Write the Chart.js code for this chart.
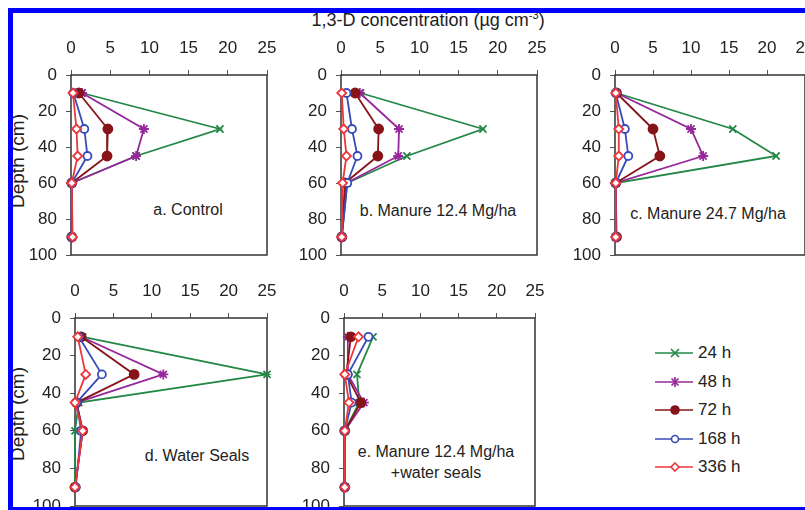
<!DOCTYPE html>
<html>
<head>
<meta charset="utf-8">
<script src="https://cdn.jsdelivr.net/npm/chart.js@4.4.0/dist/chart.umd.min.js"></script>
<style>
  body { margin: 0; width: 805px; height: 510px; overflow: hidden; background: #fff;
         font-family: "Liberation Sans", Arial, sans-serif; color: #222; position: relative; }
  .frame { position: absolute; left: 8px; top: 8px; width: 900px; height: 502px; box-sizing: border-box;
           border-top: 5px solid #0000ff; border-left: 5px solid #0000ff; border-bottom: 3px solid #0000ff;
           z-index: 5; pointer-events: none; }
  canvas { position: absolute; }
  .txt { position: absolute; white-space: nowrap; transform: translate(-50%, -50%); font-size: 16px; text-align: center; }
  .ytitle { position: absolute; white-space: nowrap; font-size: 19px; transform: translate(-50%, -50%) rotate(-90deg); }
  .legend { position: absolute; left: 655px; top: 339px; font-size: 17px; }
  .legend div { height: 28.5px; display: flex; align-items: center; }
  .legend svg { margin-right: 5px; }
</style>
</head>
<body>
<div class="frame"></div>
<div class="txt" style="left:428px; top:20px; font-size:18px;">1,3-D concentration (µg cm<sup style="font-size:11px;">-3</sup>)</div>
<div class="ytitle" style="left:18px; top:161px;">Depth (cm)</div>
<div class="ytitle" style="left:18px; top:414px;">Depth (cm)</div>
<div class="txt" style="left:188px; top:210px;">a. Control</div>
<div class="txt" style="left:438px; top:211px;">b. Manure 12.4 Mg/ha</div>
<div class="txt" style="left:708px; top:214px;">c. Manure 24.7 Mg/ha</div>
<div class="txt" style="left:197px; top:456px;">d. Water Seals</div>
<div class="txt" style="left:436px; top:462px; line-height:21px;">e. Manure 12.4 Mg/ha<br>+water seals</div>
<div class="legend" id="legend"></div>

<canvas id="pa"></canvas>
<canvas id="pb"></canvas>
<canvas id="pc"></canvas>
<canvas id="pd"></canvas>
<canvas id="pe"></canvas>

<script>
// depths (cm) at which samples were taken
const depths = [10, 30, 45, 60, 90];
const seriesNames = ["24 h", "48 h", "72 h", "168 h", "336 h"];
const xTicks = [0, 5, 10, 15, 20, 25];
const yTicks = [0, 20, 40, 60, 80, 100];

// concentration values per panel, one array per time (24, 48, 72, 168, 336 h)
const control = [
  [1.4, 19.0, 8.3, 0.1, 0.1],
  [1.4, 9.3, 8.3, 0.1, 0.1],
  [1.0, 4.7, 4.6, 0.1, 0.1],
  [0.3, 1.7, 2.1, 0.1, 0.1],
  [0.25, 0.7, 0.85, 0.1, 0.2]
];
const manure124 = [
  [2.5, 18.1, 8.4, 0.8, 0.1],
  [2.4, 7.4, 7.3, 0.7, 0.1],
  [1.8, 4.8, 4.7, 0.5, 0.1],
  [0.7, 1.4, 2.1, 0.8, 0.1],
  [0.1, 0.35, 0.7, 0.2, 0.1]
];
const manure247 = [
  [0.2, 15.5, 21.2, 0.1, 0.1],
  [0.2, 10.0, 11.6, 0.1, 0.1],
  [0.2, 5.0, 5.9, 0.1, 0.2],
  [0.1, 1.3, 1.75, 0.1, 0.1],
  [0.1, 0.5, 0.5, 0.1, 0.1]
];
const waterSeals = [
  [1.0, 25.0, 0.5, 0.0, 0.0],
  [0.8, 11.5, 0.2, 1.0, 0.0],
  [0.8, 7.7, 0.2, 1.0, 0.0],
  [0.5, 3.5, 0.2, 0.8, 0.1],
  [0.35, 1.4, 0.0, 1.0, 0.0]
];
const manureSeals = [
  [3.8, 1.7, 2.0, 0.1, 0.1],
  [0.5, 0.5, 2.6, 0.1, 0.1],
  [0.9, 0.3, 2.2, 0.1, 0.1],
  [3.2, 0.5, 1.0, 0.1, 0.1],
  [1.9, 0.1, 0.65, 0.1, 0.1]
];

const styles = [
  { color: "rgb(35,135,70)",  point: "crossRot", fill: "rgb(35,135,70)",  r: 5 },
  { color: "rgb(150,40,155)", point: "star",     fill: "rgb(150,40,155)", r: 5 },
  { color: "rgb(135,20,25)",  point: "circle",   fill: "rgb(135,20,25)",  r: 4.5 },
  { color: "rgb(55,75,185)",  point: "circle",   fill: "#fff",            r: 4 },
  { color: "rgb(235,55,60)",  point: "rectRot",  fill: "#fff",            r: 4.5 }
];

const XH = 45, YW = 50, PR = 28, PB = 24;
const tickFont = { family: "'Liberation Sans', Arial, sans-serif", size: 17 };

const framePlugin = {
  id: "frame",
  beforeDatasetsDraw(chart) {
    const a = chart.chartArea, ctx = chart.ctx;
    ctx.save();
    ctx.strokeStyle = "#333";
    ctx.lineWidth = 1.5;
    ctx.strokeRect(a.left, a.top, a.right - a.left, a.bottom - a.top);
    ctx.restore();
  }
};

function drawPanel(id, values, area) {
  const cv = document.getElementById(id);
  cv.width = area.r - area.l + YW + PR;
  cv.height = area.b - area.t + XH + PB;
  cv.style.left = (area.l - YW) + "px";
  cv.style.top = (area.t - XH) + "px";

  const datasets = values.map((vals, i) => ({
    label: seriesNames[i],
    data: vals.map((v, k) => ({ x: v, y: depths[k] })),
    showLine: true,
    borderColor: styles[i].color,
    backgroundColor: styles[i].fill,
    borderWidth: 1.8,
    pointStyle: styles[i].point,
    pointRadius: styles[i].r,
    pointBorderColor: styles[i].color,
    pointBackgroundColor: styles[i].fill,
    pointBorderWidth: 1.8,
    order: 4 - i,
    clip: false
  }));

  new Chart(cv, {
    type: "scatter",
    data: { datasets },
    options: {
      responsive: false,
      animation: false,
      layout: { padding: { left: 0, top: 0, right: PR, bottom: PB } },
      plugins: { legend: { display: false }, tooltip: { enabled: false } },
      scales: {
        x: {
          type: "linear", position: "top", min: 0, max: 25,
          afterBuildTicks: s => { s.ticks = xTicks.map(v => ({ value: v })); },
          ticks: { font: tickFont, color: "#222", padding: 11 },
          grid: { drawOnChartArea: false, tickLength: 5, color: "#555" },
          border: { display: false },
          afterFit: s => { s.height = XH; }
        },
        y: {
          type: "linear", reverse: true, min: 0, max: 100,
          afterBuildTicks: s => { s.ticks = yTicks.map(v => ({ value: v })); },
          ticks: { font: tickFont, color: "#222", padding: 9 },
          grid: { drawOnChartArea: false, tickLength: 5, color: "#555" },
          border: { display: false },
          afterFit: s => { s.width = YW; }
        }
      }
    },
    plugins: [framePlugin]
  });
}

drawPanel("pa", control,     { l: 71,  t: 75,  r: 267, b: 255 });
drawPanel("pb", manure124,   { l: 341, t: 75,  r: 537, b: 255 });
drawPanel("pc", manure247,   { l: 615, t: 75,  r: 805, b: 255 });
drawPanel("pd", waterSeals,  { l: 75,  t: 318, r: 267, b: 506 });
drawPanel("pe", manureSeals, { l: 344, t: 318, r: 535, b: 506 });

// legend: line with marker, then label
function markerSvg(s) {
  const c = s.color;
  let m = "";
  if (s.point === "crossRot") m = `<path d="M16,3 L24,11 M24,3 L16,11" stroke="${c}" stroke-width="1.7"/>`;
  else if (s.point === "star") m = `<path d="M16.5,3.5 L23.5,10.5 M23.5,3.5 L16.5,10.5 M20,2 L20,12" stroke="${c}" stroke-width="1.7"/>`;
  else if (s.point === "circle") m = `<circle cx="20" cy="7" r="${s.r - 0.5}" fill="${s.fill}" stroke="${c}" stroke-width="1.6"/>`;
  else m = `<path d="M20,3 L24,7 L20,11 L16,7 Z" fill="${s.fill}" stroke="${c}" stroke-width="1.6"/>`;
  return `<svg width="38" height="14"><line x1="0" y1="7" x2="38" y2="7" stroke="${c}" stroke-width="1.6"/>${m}</svg>`;
}
document.getElementById("legend").innerHTML =
  seriesNames.map((n, i) => `<div>${markerSvg(styles[i])}<span>${n}</span></div>`).join("");
</script>
</body>
</html>
